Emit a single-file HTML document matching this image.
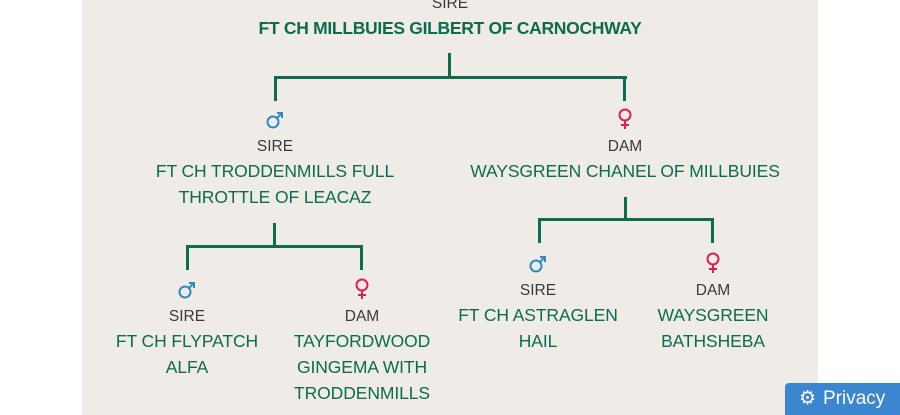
<!DOCTYPE html>
<html><head><meta charset="utf-8"><style>
html,body{margin:0;padding:0;width:900px;height:415px;overflow:hidden;background:#fff;font-family:"Liberation Sans","DejaVu Sans",sans-serif}
#panel{position:absolute;left:82px;top:0;width:736px;height:415px;background:#efece7}
.t{position:absolute;transform:translateX(-50%);white-space:nowrap;text-align:center;line-height:26px}
.lab{font-size:15.5px;color:#3a3a3a}
.nm{font-size:17.5px;color:#0d6b4f;letter-spacing:-0.1px}
.ti{font-size:17.5px;font-weight:bold;color:#0d6b4f;letter-spacing:-0.3px}
.l{position:absolute;background:#0d6b4f}
svg.s{position:absolute;width:20px;height:22px}
#btn{position:absolute;left:785px;top:383px;width:115px;height:32px;background:#3b86cf;border-radius:4px 0 0 0;color:#fff;font-size:19px;line-height:32px}
</style></head><body>
<div id="panel"></div>
<div class="t lab" style="left:450px;top:-9px">SIRE</div>
<div class="t ti" style="left:450px;top:15px">FT CH MILLBUIES GILBERT OF CARNOCHWAY</div>

<div class="l" style="left:448px;top:53px;width:3px;height:25px"></div>
<div class="l" style="left:274px;top:76px;width:353px;height:3px"></div>
<div class="l" style="left:274px;top:76px;width:3px;height:25px"></div>
<div class="l" style="left:623px;top:76px;width:3px;height:25px"></div>

<svg class="s" style="left:265px;top:108px" viewBox="0 0 20 22"><g fill="none" stroke="#2d8ac7" stroke-width="2"><circle cx="8" cy="14" r="5.5"/><path d="M12 10 L17 5 M12 5 H17 V10"/></g></svg>
<div class="t lab" style="left:275px;top:134px">SIRE</div>
<div class="t nm" style="left:275px;top:158px">FT CH TRODDENMILLS FULL<br>THROTTLE OF LEACAZ</div>

<svg class="s" style="left:615px;top:108px" viewBox="0 0 20 22"><g fill="none" stroke="#de1f57" stroke-width="2"><circle cx="10" cy="7" r="5.5"/><path d="M10 12.5 V21 M6 17 H14"/></g></svg>
<div class="t lab" style="left:625px;top:134px">DAM</div>
<div class="t nm" style="left:625px;top:158px">WAYSGREEN CHANEL OF MILLBUIES</div>

<div class="l" style="left:273px;top:223px;width:3px;height:24px"></div>
<div class="l" style="left:186px;top:245px;width:177px;height:3px"></div>
<div class="l" style="left:186px;top:245px;width:3px;height:25px"></div>
<div class="l" style="left:360px;top:245px;width:3px;height:25px"></div>

<div class="l" style="left:624px;top:197px;width:3px;height:23px"></div>
<div class="l" style="left:538px;top:218px;width:176px;height:3px"></div>
<div class="l" style="left:538px;top:218px;width:3px;height:25px"></div>
<div class="l" style="left:711px;top:218px;width:3px;height:25px"></div>

<svg class="s" style="left:177px;top:278px" viewBox="0 0 20 22"><g fill="none" stroke="#2d8ac7" stroke-width="2"><circle cx="8" cy="14" r="5.5"/><path d="M12 10 L17 5 M12 5 H17 V10"/></g></svg>
<div class="t lab" style="left:187px;top:304px">SIRE</div>
<div class="t nm" style="left:187px;top:328px">FT CH FLYPATCH<br>ALFA</div>

<svg class="s" style="left:352px;top:278px" viewBox="0 0 20 22"><g fill="none" stroke="#de1f57" stroke-width="2"><circle cx="10" cy="7" r="5.5"/><path d="M10 12.5 V21 M6 17 H14"/></g></svg>
<div class="t lab" style="left:362px;top:304px">DAM</div>
<div class="t nm" style="left:362px;top:328px">TAYFORDWOOD<br>GINGEMA WITH<br>TRODDENMILLS</div>

<svg class="s" style="left:528px;top:252px" viewBox="0 0 20 22"><g fill="none" stroke="#2d8ac7" stroke-width="2"><circle cx="8" cy="14" r="5.5"/><path d="M12 10 L17 5 M12 5 H17 V10"/></g></svg>
<div class="t lab" style="left:538px;top:278px">SIRE</div>
<div class="t nm" style="left:538px;top:302px">FT CH ASTRAGLEN<br>HAIL</div>

<svg class="s" style="left:703px;top:252px" viewBox="0 0 20 22"><g fill="none" stroke="#de1f57" stroke-width="2"><circle cx="10" cy="7" r="5.5"/><path d="M10 12.5 V21 M6 17 H14"/></g></svg>
<div class="t lab" style="left:713px;top:278px">DAM</div>
<div class="t nm" style="left:713px;top:302px">WAYSGREEN<br>BATHSHEBA</div>

<div id="btn"><span style="position:absolute;left:14px;top:0;font-size:19px">⚙</span><span style="position:absolute;left:38px;top:0">Privacy</span></div>
</body></html>
